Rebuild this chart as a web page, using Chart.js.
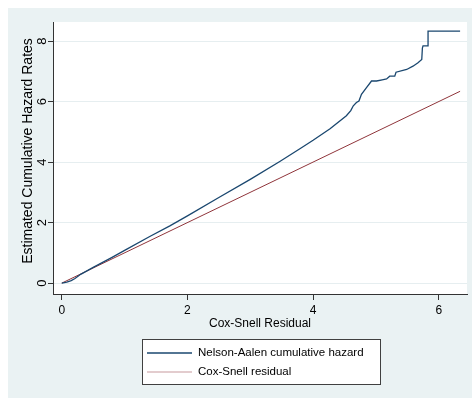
<!DOCTYPE html>
<html>
<head>
<meta charset="utf-8">
<script src="https://cdn.jsdelivr.net/npm/chart.js@4/dist/chart.umd.min.js"></script>
<style>
    html, body { margin: 0; padding: 0; background: #fff; }
</style>
</head>
<body>
<canvas id="myChart" width="472" height="398"></canvas>
<script>
const COLOUR_NA = '#1a476f';
const COLOUR_CS = '#90353b';
const COLOUR_BG = '#eaf2f3';
const COLOUR_GRID = '#e6eef0';
const FONT = '"Liberation Sans", Arial, sans-serif';

// Nelson-Aalen cumulative hazard
const naX = [0, 0.08, 0.15, 0.21, 0.3, 0.5, 0.8, 1.0, 1.4, 1.72, 2.0, 2.5, 3.0, 3.47, 3.79, 4.0, 4.27, 4.53,
    4.6, 4.64, 4.69, 4.73, 4.77, 4.85, 4.93, 5.01, 5.1, 5.17, 5.22, 5.30, 5.32, 5.49, 5.59, 5.67, 5.73,
    5.74, 5.75, 5.83, 5.83, 6.34];
const naY = [0, 0.03, 0.08, 0.15, 0.29, 0.52, 0.85, 1.08, 1.54, 1.89, 2.22, 2.83, 3.43, 4.02, 4.44, 4.72, 5.10, 5.53,
    5.70, 5.86, 5.97, 6.02, 6.24, 6.46, 6.68, 6.68, 6.72, 6.75, 6.84, 6.84, 6.97, 7.06, 7.17, 7.28, 7.39,
    7.77, 7.84, 7.84, 8.33, 8.33];

// Cox-Snell residual reference line
const csX = [0, 6.34];
const csY = [0, 6.34];

const xTicks = [0, 2, 4, 6];
const yTicks = [0, 2, 4, 6, 8];
const xTitle = 'Cox-Snell Residual';
const yTitle = 'Estimated Cumulative Hazard Rates';
const labels = ['Nelson-Aalen cumulative hazard', 'Cox-Snell residual'];

var naData = naX.map((x, i) => { return { x: x, y: naY[i] } });
var csData = csX.map((x, i) => { return { x: x, y: csY[i] } });

const stataPlugin = {
    id: 'stata',
    beforeDraw(chart) {
        var ctx = chart.ctx, a = chart.chartArea;
        ctx.save();
        ctx.fillStyle = '#fff';
        ctx.fillRect(0, 0, chart.width, chart.height);
        ctx.fillStyle = COLOUR_BG;
        ctx.fillRect(8, 8, chart.width - 8, chart.height - 8);
        ctx.fillStyle = '#fff';
        ctx.fillRect(a.left, a.top, a.right - a.left, a.bottom - a.top);
        ctx.restore();
    },
    afterDraw(chart) {
        var ctx = chart.ctx, a = chart.chartArea, ys = chart.scales.y;
        ctx.save();
        ctx.fillStyle = '#000';
        ctx.textAlign = 'center';
        ctx.textBaseline = 'middle';

        // y tick labels, rotated like Stata
        ctx.font = '13px ' + FONT;
        yTicks.forEach((v) => {
            ctx.save();
            ctx.translate(42, ys.getPixelForValue(v));
            ctx.rotate(-Math.PI / 2);
            ctx.fillText(String(v), 0, 0);
            ctx.restore();
        });

        // y title
        ctx.font = '14px ' + FONT;
        ctx.save();
        ctx.translate(28, 151);
        ctx.rotate(-Math.PI / 2);
        ctx.fillText(yTitle, 0, 0);
        ctx.restore();

        // x title
        ctx.font = '12px ' + FONT;
        ctx.fillText(xTitle, (a.left + a.right) / 2, 324);

        // legend box
        var bx = 142, by = 339, bw = 238, bh = 45;
        ctx.fillStyle = '#fff';
        ctx.fillRect(bx, by, bw, bh);
        ctx.strokeStyle = '#999';
        ctx.lineWidth = 1;
        ctx.beginPath();
        ctx.moveTo(bx + 1, by + bh + 0.5);
        ctx.lineTo(bx + bw + 0.5, by + bh + 0.5);
        ctx.stroke();
        ctx.strokeStyle = '#404040';
        ctx.strokeRect(bx + 0.5, by + 0.5, bw, bh);

        ctx.textAlign = 'left';
        ctx.font = '11.5px ' + FONT;
        chart.data.datasets.forEach((ds, i) => {
            var ly = 353 + i * 19;
            ctx.strokeStyle = ds.borderColor;
            ctx.lineWidth = i == 0 ? 1.3 : 1;
            if (i == 1) ctx.globalAlpha = 0.5;
            ctx.beginPath();
            ctx.moveTo(147, ly);
            ctx.lineTo(192, ly);
            ctx.stroke();
            ctx.globalAlpha = 1;
            ctx.fillStyle = '#000';
            ctx.fillText(ds.label, 198, ly);
        });
        ctx.restore();
    }
};

var ctx = document.getElementById('myChart');
var myChart = new Chart(ctx, {
    type: 'line',
    data: {
        datasets: [{
            label: labels[0],
            data: naData,
            borderColor: COLOUR_NA,
            backgroundColor: COLOUR_NA,
            borderWidth: 1.3,
            pointRadius: 0,
            fill: false,
            tension: 0
        }, {
            label: labels[1],
            data: csData,
            borderColor: COLOUR_CS,
            backgroundColor: COLOUR_CS,
            borderWidth: 1,
            pointRadius: 0,
            fill: false,
            tension: 0
        }]
    },
    options: {
        responsive: false,
        animation: false,
        devicePixelRatio: 1,
        layout: { padding: { left: 0, right: 5, top: 22, bottom: 0 } },
        plugins: {
            legend: { display: false },
            tooltip: { enabled: false }
        },
        scales: {
            x: {
                type: 'linear',
                min: -0.14,
                max: 6.45,
                afterBuildTicks: (s) => { s.ticks = xTicks.map((v) => { return { value: v } }) },
                afterFit: (s) => { s.height = 104 },
                grid: { drawOnChartArea: false, drawTicks: true, tickLength: 6, tickColor: '#333' },
                border: { color: '#333', width: 1 },
                ticks: { color: '#000', font: { family: FONT, size: 12 }, padding: 3, maxRotation: 0 }
            },
            y: {
                type: 'linear',
                min: -0.36,
                max: 8.63,
                afterBuildTicks: (s) => { s.ticks = yTicks.map((v) => { return { value: v } }) },
                afterFit: (s) => { s.width = 53 },
                grid: { color: COLOUR_GRID, drawTicks: true, tickLength: 5, tickColor: '#333' },
                border: { color: '#333', width: 1 },
                ticks: { display: false }
            }
        }
    },
    plugins: [stataPlugin]
});
</script>
</body>
</html>
